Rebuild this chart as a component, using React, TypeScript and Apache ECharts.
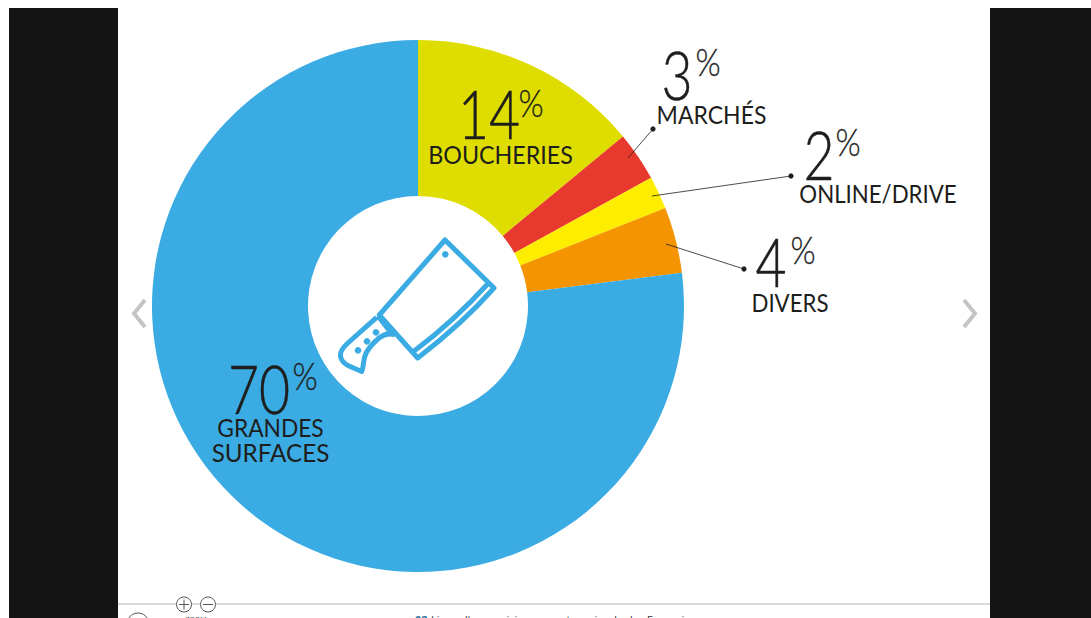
import React, { useEffect, useRef } from "react";
import * as echarts from "echarts";

const categories = ["BOUCHERIES", "MARCHÉS", "ONLINE/DRIVE", "DIVERS", "GRANDES SURFACES"];
const sliceValues = [14, 3, 2, 4, 77];
const printedPercents = ["14", "3", "2", "4", "70"];
const sliceColors = ["#DFDD00", "#E8392E", "#FFED00", "#F39400", "#3BABE3"];
const caption = "Lieux d'approvisionnement en viande des Français";

const INK = "#1d1d1b";
const FONT = "Lato";

const cleaver =
  "M445 240 L494 288 C470 315 445 337 417.7 358 L379.3 315 Z " +
  "M489.5 282 C466 308 441 331 413.5 351.5 " +
  "M376.7 317.3 L349 342 C342 348 339 353 341 358 C342 362 345 364 349 366 L361.7 371.5 C364 366 363 361 365 356 C367 349 372 344 379 338 C384 334 390 333 395 335 " +
  "M378 316 L392 334";
const chevL = "M145 300 L134 313.5 L145 327";
const chevR = "M964 300 L975 313.5 L964 327";

echarts.graphic.registerShape("cleaver", echarts.graphic.extendPath(cleaver, {}) as any);
echarts.graphic.registerShape("chevL", echarts.graphic.extendPath(chevL, {}) as any);
echarts.graphic.registerShape("chevR", echarts.graphic.extendPath(chevR, {}) as any);

const t = (text: string, x: number, y: number, size: number, weight = 400, fill = INK, align = "left", family = "Open Sans") => ({
  type: "text",
  z: 20,
  style: { text, x, y, fill, fontSize: size, fontWeight: weight, fontFamily: family, textAlign: align, textVerticalAlign: "middle" },
});

// Condensed text: the original face is narrower than any installed one.
const sq = (text: string, x: number, y: number, size: number, sx: number, weight = 400, stroke = 0) => ({
  type: "text",
  z: 20,
  x,
  y,
  scaleX: sx,
  style: {
    text,
    x: 0,
    y: 0,
    fill: INK,
    stroke: stroke ? INK : undefined,
    lineWidth: stroke,
    fontSize: size,
    fontWeight: weight,
    fontFamily: FONT,
    textAlign: "center",
    textVerticalAlign: "middle",
  },
});
const num = (text: string, x: number, y: number) => sq(text, x, y, 67, 0.8, 300, 0.5);
const pct = (x: number, y: number) => sq("%", x, y, 38, 0.85, 300, 0.3);

const leader = (x1: number, y1: number, x2: number, y2: number) => [
  { type: "line", z: 20, shape: { x1, y1, x2, y2 }, style: { stroke: INK, lineWidth: 0.8 } },
  { type: "circle", z: 20, shape: { cx: x2, cy: y2, r: 2.6 }, style: { fill: INK } },
];

const dot = (cx: number, cy: number, r = 3.3) => ({ type: "circle", z: 20, shape: { cx, cy, r }, style: { fill: "#3BABE3" } });

export default function App() {
  const ref = useRef<HTMLDivElement>(null);
  useEffect(() => {
    document.body.style.margin = "0";
    document.body.style.overflow = "hidden";
    const chart = echarts.init(ref.current!, undefined, { renderer: "svg" });
    chart.setOption({
      animation: false,
      backgroundColor: "#ffffff",
      series: [
        {
          type: "pie",
          center: [418, 306],
          radius: [110, 266],
          startAngle: 90,
          clockwise: true,
          silent: true,
          label: { show: false },
          labelLine: { show: false },
          data: categories.map((name, i) => ({ name, value: sliceValues[i], itemStyle: { color: sliceColors[i] } })),
        },
      ],
      graphic: [
        { type: "rect", z: 1, shape: { x: 9, y: 8, width: 109, height: 610 }, style: { fill: "#141414" } },
        { type: "rect", z: 1, shape: { x: 990, y: 8, width: 101, height: 610 }, style: { fill: "#141414" } },
        { type: "line", z: 1, shape: { x1: 118, y1: 604, x2: 990, y2: 604 }, style: { stroke: "#b5b5b5", lineWidth: 1 } },
        { type: "chevL", z: 1, style: { fill: "none", stroke: "#c4c4c4", lineWidth: 4 } },
        { type: "chevR", z: 1, style: { fill: "none", stroke: "#c4c4c4", lineWidth: 4 } },
        { type: "circle", z: 3, shape: { cx: 184, cy: 604.5, r: 7.5 }, style: { fill: "#fff", stroke: "#555", lineWidth: 1 } },
        { type: "circle", z: 3, shape: { cx: 208, cy: 604.5, r: 7.5 }, style: { fill: "#fff", stroke: "#555", lineWidth: 1 } },
        { type: "circle", z: 3, shape: { cx: 138, cy: 624, r: 11 }, style: { fill: "#fff", stroke: "#555", lineWidth: 1 } },
        { type: "line", z: 4, shape: { x1: 179, y1: 604.5, x2: 189, y2: 604.5 }, style: { stroke: "#555", lineWidth: 1 } },
        { type: "line", z: 4, shape: { x1: 184, y1: 599.5, x2: 184, y2: 609.5 }, style: { stroke: "#555", lineWidth: 1 } },
        { type: "line", z: 4, shape: { x1: 203, y1: 604.5, x2: 213, y2: 604.5 }, style: { stroke: "#555", lineWidth: 1 } },
        t("ZOOM", 196, 619, 7, 400, "#555", "center"),
        t("02", 415, 619, 11, 700, "#1d6f9f"),
        t(caption, 431, 619, 11, 400, "#333"),

        { type: "cleaver", z: 20, style: { fill: "none", stroke: "#3BABE3", lineWidth: 5, lineJoin: "round", lineCap: "butt" } },
        dot(445.3, 254.3), dot(376, 332.3), dot(367, 341.3), dot(358, 350.3),

        num(printedPercents[0], 489, 113),
        pct(531, 102),
        sq(categories[0], 500.5, 154, 25, 0.93),

        num(printedPercents[1], 677, 74),
        pct(708, 61),
        sq(categories[1], 711.5, 114, 25, 0.92),
        ...leader(628, 158, 653, 129),

        num(printedPercents[2], 819, 154),
        pct(848, 141),
        sq(categories[2], 878, 193, 25, 0.89),
        ...leader(652, 196, 791, 176),

        num(printedPercents[3], 771, 261),
        pct(803, 249),
        sq(categories[3], 790, 302, 25, 0.89),
        ...leader(666, 244, 744, 269),

        num(printedPercents[4], 259, 388),
        pct(305, 375),
        sq("GRANDES", 270.5, 427, 25, 0.91),
        sq("SURFACES", 270.5, 452, 25, 0.97),
      ],
    });
    return () => chart.dispose();
  }, []);
  return <div ref={ref} style={{ width: 1091, height: 618 }} />;
}
